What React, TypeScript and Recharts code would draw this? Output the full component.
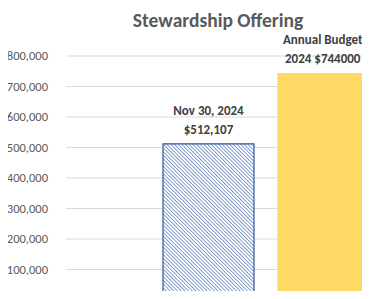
import { BarChart, Bar, XAxis, YAxis, CartesianGrid, Cell, LabelList } from 'recharts'

const categories = ['Nov 30, 2024', 'Annual Budget 2024']
const amounts = [512107, 744000]
const labelTop = ['Nov 30, 2024', 'Annual Budget']
const labelBottom = ['$512,107', '2024 $744000']
const yTicks = [0, 100000, 200000, 300000, 400000, 500000, 600000, 700000, 800000]

const data = categories.map((name, i) => ({
  name,
  value: amounts[i],
  top: labelTop[i],
  bottom: labelBottom[i],
}))

const fonts = 'Carlito, "Open Sans", "Noto Sans", sans-serif'

function BarLabel(props: any) {
  const { x, y, width, index } = props
  const cx = Number(x) + Number(width) / 2
  const d = data[index]
  return (
    <text
      x={cx}
      y={Number(y)}
      textAnchor="middle"
      fill="#404040"
      fontSize={13}
      fontWeight={700}
      fontFamily={fonts}
    >
      <tspan x={cx} dy={-29}>{d.top}</tspan>
      <tspan x={cx} dy={19}>{d.bottom}</tspan>
    </text>
  )
}

export default function App() {
  return (
    <div
      style={{
        position: 'relative',
        width: 370,
        height: 299,
        margin: -8,
        overflow: 'hidden',
        background: '#fff',
      }}
    >
      <div
        style={{
          position: 'absolute',
          left: 108,
          top: 8,
          width: 220,
          textAlign: 'center',
          fontFamily: fonts,
          fontWeight: 700,
          fontSize: 19.5,
          color: '#595959',
        }}
      >
        Stewardship Offering
      </div>
      <BarChart
        width={380}
        height={300}
        data={data}
        margin={{ top: 56, right: 0, bottom: 0, left: 0 }}
        barCategoryGap={11.5}
      >
        <defs>
          <pattern
            id="hatch"
            patternUnits="userSpaceOnUse"
            width={2.6}
            height={2.6}
            patternTransform="rotate(-45)"
          >
            <rect width={2.6} height={2.6} fill="#ffffff" />
            <line x1={0} y1={0} x2={0} y2={2.6} stroke="#4a6db3" strokeWidth={1.3} />
          </pattern>
        </defs>
        <CartesianGrid vertical={false} stroke="#d9d9d9" />
        <XAxis dataKey="name" hide padding={{ left: 85.5, right: 0 }} />
        <YAxis
          width={66}
          domain={[0, 800000]}
          ticks={yTicks}
          interval={0}
          axisLine={false}
          tickLine={false}
          tickMargin={12}
          tickFormatter={(v: number) => v.toLocaleString('en-US')}
          tick={{ fill: '#595959', fontSize: 12.5, fontFamily: fonts }}
        />
        <Bar dataKey="value" isAnimationActive={false}>
          {data.map((d, i) => (
            <Cell
              key={d.name}
              fill={i === 0 ? 'url(#hatch)' : '#ffd966'}
              stroke={i === 0 ? '#2f5597' : 'none'}
              strokeWidth={1.2}
            />
          ))}
          <LabelList dataKey="value" content={BarLabel} />
        </Bar>
      </BarChart>
    </div>
  )
}
